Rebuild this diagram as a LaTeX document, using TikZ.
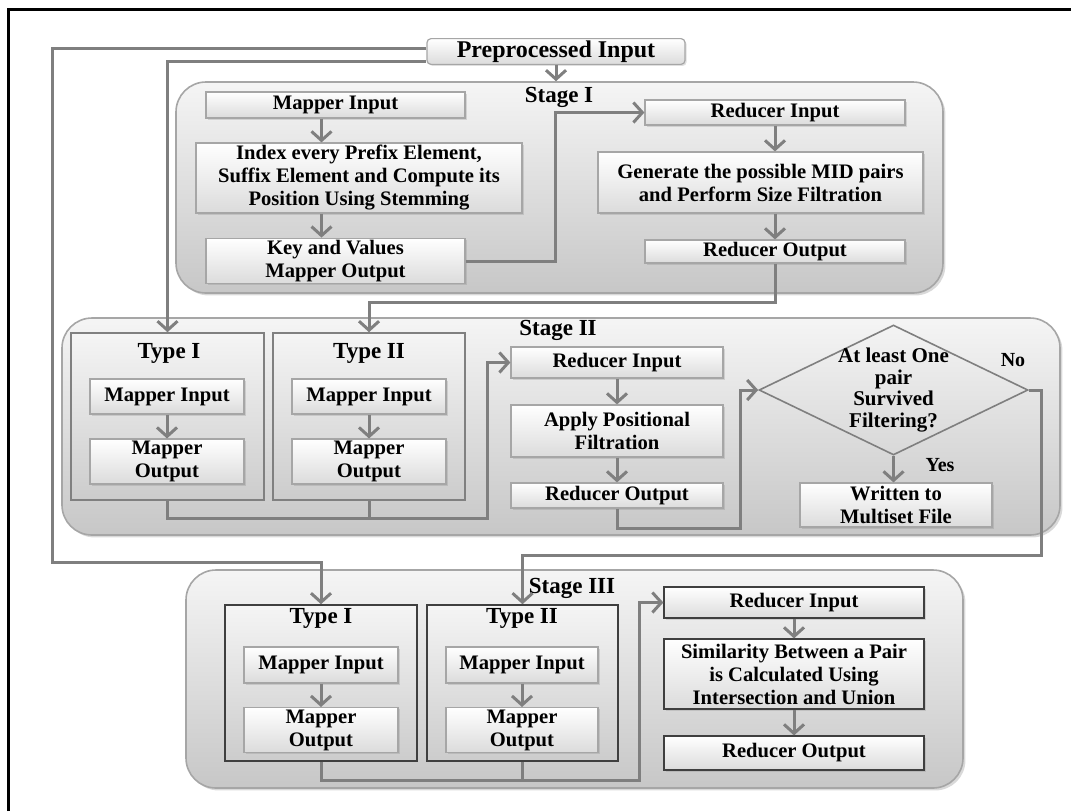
\documentclass[tikz,border=0pt]{standalone}
\usepackage{fontspec}
\setmainfont{Liberation Serif}
\usetikzlibrary{arrows.meta,shapes.geometric,shadows}
\definecolor{flowgray}{HTML}{7F7F7F}
\definecolor{edgegray}{HTML}{A6A6A6}
\definecolor{darkedge}{HTML}{3F3F3F}
\begin{document}
\begin{tikzpicture}[x=0.5pt,y=-0.5pt,
    stage/.style={draw=edgegray, line width=0.8pt, rounded corners=15pt, top color=black!4, bottom color=black!22, drop shadow={shadow xshift=1.2pt,shadow yshift=-1.2pt,opacity=.3}},
    box/.style={draw=edgegray, line width=0.6pt, top color=white, bottom color=black!14, inner sep=1pt, align=center, font=\fontsize{10.3}{11.5}\selectfont\bfseries, drop shadow={shadow xshift=.8pt,shadow yshift=-.8pt,opacity=.25}},
    darkbox/.style={box, draw=darkedge},
    typebox/.style={draw=black!50, line width=0.8pt, top color=black!4, bottom color=black!20},
    stagelabel/.style={font=\fontsize{11.5}{13}\selectfont\bfseries, inner sep=0pt},
    answer/.style={font=\fontsize{10}{12}\selectfont\bfseries, inner sep=0pt},
    flow/.style={draw=flowgray, line width=1.5pt, -{Straight Barb[length=4.5pt,width=10pt]}},
    link/.style={draw=flowgray, line width=1.5pt},
    decision/.style={diamond, draw=flowgray, line width=0.8pt, inner sep=0pt}]
    \useasboundingbox (0,0) rectangle (1071,811);
    \draw[line width=1.5pt] (8,811) -- (8,9) -- (1071,9);

    \node[stage, minimum width=383.5pt, minimum height=105.5pt] (stI) at (559.5,187.5) {};
    \node[stage, minimum width=499pt, minimum height=108.5pt] (stII) at (561,426.5) {};
    \node[stage, minimum width=388.5pt, minimum height=109pt] (stIII) at (574.5,679) {};

    \node[box, rounded corners=2pt, font=\fontsize{12}{14}\selectfont\bfseries, minimum width=129pt, minimum height=12.5pt] (pre) at (556,51.5) {Preprocessed Input};

    \node[stagelabel] (lbI) at (559,97) {Stage I};
    \node[stagelabel] (lbII) at (558,330) {Stage II};
    \node[stagelabel] (lbIII) at (572,588) {Stage III};

    \node[box, minimum width=129.5pt, minimum height=13pt] (miA) at (335.5,105) {Mapper Input};
    \node[box, minimum width=163pt, minimum height=35pt] (idx) at (359,178) {Index every Prefix Element,\\Suffix Element and Compute its\\Position Using Stemming};
    \node[box, minimum width=129.5pt, minimum height=22pt] (kv) at (335.5,261) {Key and Values\\Mapper Output};
    \node[box, minimum width=130pt, minimum height=12.5pt] (riA) at (775,112.5) {Reducer Input};
    \node[box, minimum width=162.5pt, minimum height=30.5pt] (gen) at (760.5,182.5) {Generate the possible MID pairs\\and Perform Size Filtration};
    \node[box, minimum width=130pt, minimum height=11.5pt] (roA) at (775,251.5) {Reducer Output};

    \node[typebox, minimum width=96.5pt, minimum height=83.5pt] (tyA) at (167.5,416.5) {};
    \node[typebox, minimum width=96pt, minimum height=83.5pt] (tyB) at (369,416.5) {};
    \node[stagelabel] (lbA) at (169,353) {Type I};
    \node[stagelabel] (lbB) at (369,353) {Type II};
    \node[box, minimum width=77pt, minimum height=17.5pt] (miB) at (167,396.5) {Mapper Input};
    \node[box, minimum width=77pt, minimum height=21.5pt] (moB) at (167,461.5) {Mapper\\Output};
    \node[box, minimum width=77pt, minimum height=17.5pt] (miC) at (369,396.5) {Mapper Input};
    \node[box, minimum width=77pt, minimum height=21.5pt] (moC) at (369,461.5) {Mapper\\Output};
    \node[box, minimum width=106pt, minimum height=15.5pt] (riB) at (617,362.5) {Reducer Input};
    \node[box, minimum width=106pt, minimum height=26pt] (apf) at (617,431) {Apply Positional\\Filtration};
    \node[box, minimum width=106pt, minimum height=12.5pt] (roB) at (617,495.5) {Reducer Output};
    \node[decision, minimum width=134.5pt, minimum height=65pt] (dec) at (893.5,390) {};
    \node[align=center, font=\fontsize{10.5}{10.9}\selectfont\bfseries] (dectxt) at (dec) {At least One\\pair\\Survived\\Filtering?};
    \node[box, minimum width=96pt, minimum height=22pt] (wr) at (896,505) {Written to\\Multiset File};
    \node[answer] (no) at (1013,360) {No};
    \node[answer] (yes) at (940,465) {Yes};

    \node[typebox, draw=darkedge, minimum width=96pt, minimum height=78pt] (tyD) at (321,683) {};
    \node[typebox, draw=darkedge, minimum width=95.5pt, minimum height=78pt] (tyE) at (522.5,683) {};
    \node[stagelabel] (lbD) at (321,618) {Type I};
    \node[stagelabel] (lbE) at (522,618) {Type II};
    \node[box, minimum width=77pt, minimum height=18pt] (miD) at (321,665) {Mapper Input};
    \node[box, minimum width=77pt, minimum height=22pt] (moD) at (321,730) {Mapper\\Output};
    \node[box, minimum width=76pt, minimum height=18pt] (miE) at (522,665) {Mapper Input};
    \node[box, minimum width=76pt, minimum height=22pt] (moE) at (522,730) {Mapper\\Output};
    \node[darkbox, minimum width=130pt, minimum height=15.5pt] (riC) at (794,602.5) {Reducer Input};
    \node[darkbox, minimum width=130pt, minimum height=35pt] (sim) at (794,674) {Similarity Between a Pair\\is Calculated Using\\Intersection and Union};
    \node[darkbox, minimum width=130pt, minimum height=17pt] (roC) at (794,753) {Reducer Output};

    \coordinate (preL) at (52,562);
    \coordinate (kvturn) at (555,180);
    \coordinate (noturn) at (1041,555);

    \draw[flow] ([yshift=1.75pt]pre.west) -| (preL) -| (tyD.north);
    \draw[flow] ([yshift=-4.75pt]pre.west) -| (tyA.north);
    \draw[flow] (pre.south) -- (pre.south |- stI.north);

    \draw[flow] ([xshift=-7pt]miA.south) -- ([xshift=-7pt]miA.south |- idx.north);
    \draw[flow] ([xshift=-7pt]miA.south |- idx.south) -- ([xshift=-7pt]kv.north);
    \draw[flow] (kv.east) -| (kvturn) |- (riA.west);
    \draw[flow] (riA.south) -- (riA.south |- gen.north);
    \draw[flow] (riA.south |- gen.south) -- (roA.north);
    \draw[flow] (roA.south) -- ++(0,-19.5pt) -| (tyB.north);

    \draw[flow] (miB.south) -- (moB.north);
    \draw[flow] (miC.south) -- (moC.north);
    \draw[flow] (tyA.south) -- ++(0,-9pt) -| ([xshift=-11.5pt]riB.west) -- (riB.west);
    \draw[link] (tyB.south) -- ++(0,-9pt);
    \draw[flow] (riB.south) -- (apf.north);
    \draw[flow] (apf.south) -- (roB.north);
    \draw[flow] (roB.south) -- ++(0,-10pt) -| ([xshift=-9pt]dec.west) -- (dec.west);
    \draw[flow] (dec.south) -- (dec.south |- wr.north);
    \draw[flow] (dec.east) -| (noturn) -| (tyE.north);

    \draw[flow] (miD.south) -- (moD.north);
    \draw[flow] (miE.south) -- (moE.north);
    \draw[flow] (tyD.south) -- ++(0,-9.5pt) -| ([xshift=-12pt]riC.west) -- (riC.west);
    \draw[link] (tyE.south) -- ++(0,-9.5pt);
    \draw[flow] (riC.south) -- (sim.north);
    \draw[flow] (sim.south) -- (roC.north);
\end{tikzpicture}
\end{document}
